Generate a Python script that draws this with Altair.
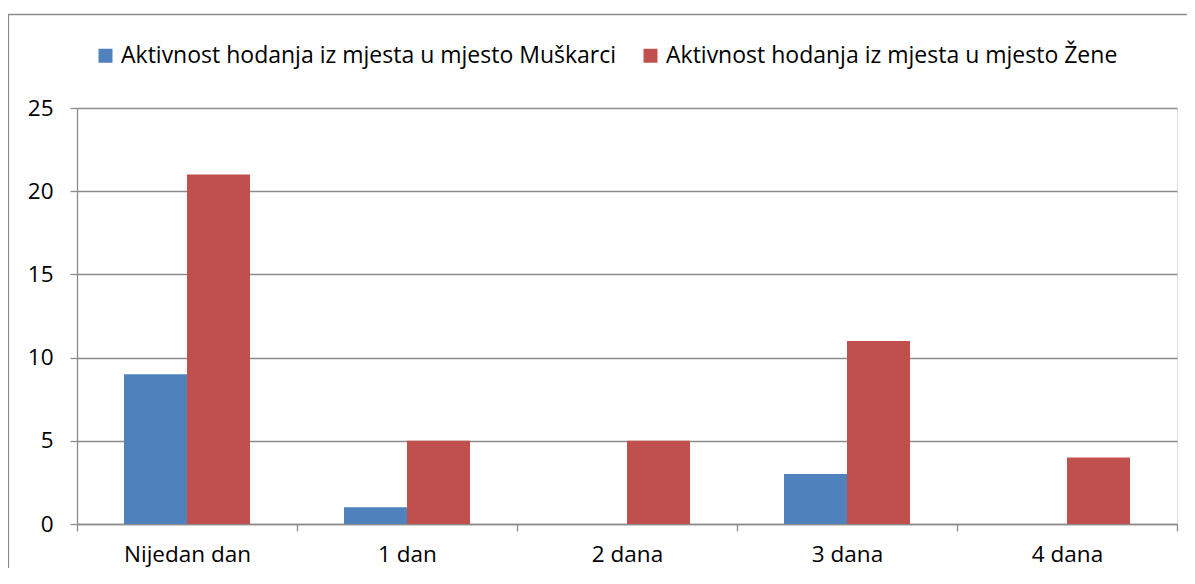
import altair as alt
import pandas as pd

categories = ["Nijedan dan", "1 dan", "2 dana", "3 dana", "4 dana"]
series = [
    "Aktivnost hodanja iz mjesta u mjesto Muškarci",
    "Aktivnost hodanja iz mjesta u mjesto Žene",
]
muskarci = [9, 1, 0, 3, 0]
zene = [21, 5, 5, 11, 4]
colors = ["#4F81BD", "#C0504D"]
y_ticks = [0, 5, 10, 15, 20, 25]

rows = []
for i, c in enumerate(categories):
    rows.append({"kategorija": c, "serija": series[0], "vrijednost": muskarci[i]})
    rows.append({"kategorija": c, "serija": series[1], "vrijednost": zene[i]})
df = pd.DataFrame(rows)

W, H = 1100, 416
FONT = "Open Sans"
GRAY = "#8c8c8c"
FS = 22.5

bars = alt.Chart(df).mark_bar().encode(
    x=alt.X(
        "kategorija:N",
        sort=categories,
        scale=alt.Scale(paddingInner=0, paddingOuter=0),
        axis=alt.Axis(
            title=None, labelAngle=0, tickBand="extent", grid=False,
            domainColor=GRAY, domainWidth=1.3, tickColor=GRAY, tickWidth=1.3,
            tickSize=7, labelFont=FONT, labelFontSize=FS, labelColor="#000000",
            labelPadding=12,
        ),
    ),
    xOffset=alt.XOffset(
        "serija:N", sort=series,
        scale=alt.Scale(paddingInner=0, paddingOuter=0.746),
    ),
    y=alt.Y(
        "vrijednost:Q",
        scale=alt.Scale(domain=[0, 25], nice=False),
        axis=alt.Axis(
            title=None, values=y_ticks, grid=True, gridColor=GRAY, gridWidth=1.3,
            domainColor=GRAY, domainWidth=1.3, tickColor=GRAY, tickWidth=1.3,
            tickSize=7, labelFont=FONT, labelFontSize=FS, labelColor="#000000",
            labelPadding=17,
        ),
    ),
    color=alt.Color(
        "serija:N",
        sort=series,
        scale=alt.Scale(domain=series, range=colors),
        legend=alt.Legend(
            title=None, orient="none", legendX=17, legendY=-64,
            direction="horizontal", symbolType="square", symbolSize=196,
            symbolStrokeWidth=0, labelFont=FONT, labelFontSize=23,
            labelColor="#000000", columnPadding=22, labelOffset=4, padding=0,
            labelLimit=700,
        ),
    ),
)

border = alt.Chart(pd.DataFrame({"a": [0]})).mark_rect(
    filled=False, stroke="#8c8c8c", strokeWidth=1.3, clip=False
).encode(
    x=alt.value(-68.5), x2=alt.value(1200), y=alt.value(-93.5), y2=alt.value(700)
)

chart = alt.layer(border, bars).properties(
    width=W, height=H,
    autosize=alt.AutoSizeParams(type="none"),
    padding={"left": 69, "top": 100, "right": 10, "bottom": 44},
).configure_view(stroke=None).configure(background="white")

chart.save("out.html", embed_options={"renderer": "svg", "actions": False})
